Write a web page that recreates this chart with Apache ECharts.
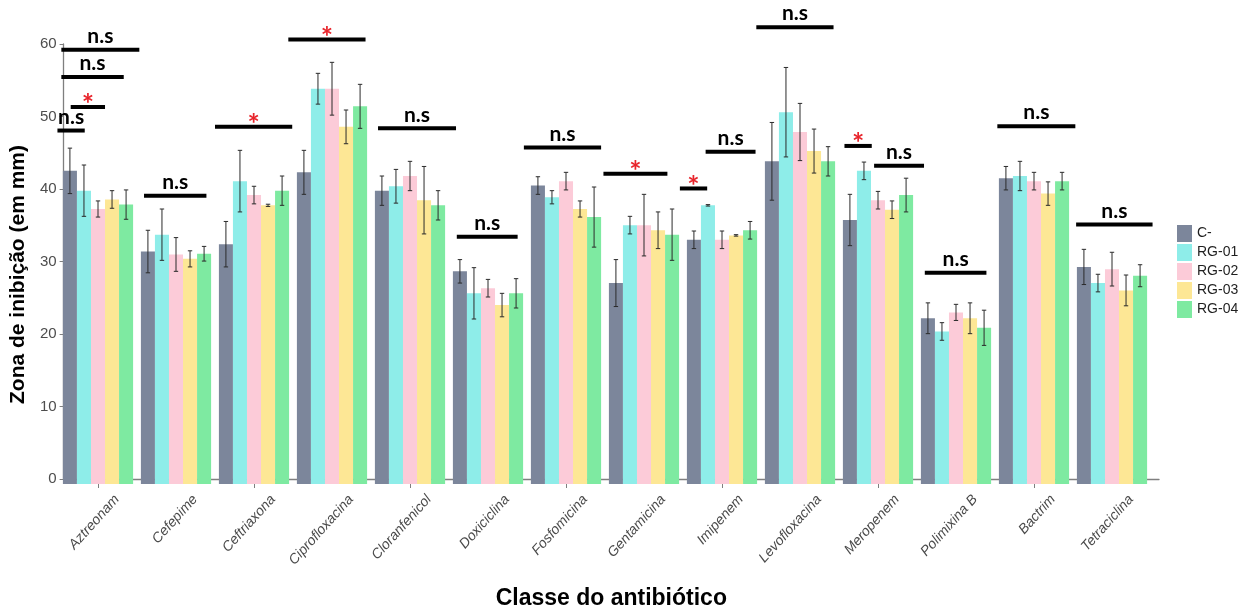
<!DOCTYPE html>
<html>
<head>
<meta charset="utf-8">
<script src="https://cdn.jsdelivr.net/npm/echarts@6/dist/echarts.min.js"></script>
<style>
  html, body { margin: 0; padding: 0; background: #ffffff; }
  #chart { width: 1246px; height: 615px; }
</style>
</head>
<body>
<div id="chart"></div>
<script>
// Inhibition zone (mm) per antibiotic, for the control and four isolates
const categories = ['Aztreonam', 'Cefepime', 'Ceftriaxona', 'Ciprofloxacina', 'Cloranfenicol',
  'Doxiciclina', 'Fosfomicina', 'Gentamicina', 'Imipenem', 'Levofloxacina',
  'Meropenem', 'Polimixina B', 'Bactrim', 'Tetraciclina'];
const groups = ['C-', 'RG-01', 'RG-02', 'RG-03', 'RG-04'];

const meanC   = [42.7, 31.7, 32.7, 42.5, 40.0, 29.0, 40.7, 27.4, 33.3, 44.0, 36.0, 22.6, 41.7, 29.6];
const meanRG1 = [40.0, 34.0, 41.3, 53.9, 40.6, 26.0, 39.1, 35.3, 38.0, 50.7, 42.7, 20.8, 42.0, 27.4];
const meanRG2 = [37.5, 31.3, 39.4, 53.9, 42.0, 26.7, 41.3, 35.3, 33.3, 48.0, 38.7, 23.4, 41.3, 29.3];
const meanRG3 = [38.8, 30.7, 38.0, 48.7, 38.7, 24.4, 37.5, 34.6, 33.9, 45.4, 37.4, 22.6, 39.6, 26.4];
const meanRG4 = [38.1, 31.4, 40.0, 51.5, 38.0, 26.0, 36.4, 34.0, 34.6, 44.0, 39.4, 21.3, 41.3, 28.4];

// standard deviations (half length of each error bar)
const sdC   = [3.1, 2.9, 3.1, 3.0, 2.0, 1.6, 1.2, 3.2, 1.2, 5.3, 3.5, 2.1, 1.6, 2.4];
const sdRG1 = [3.5, 3.5, 4.2, 2.1, 2.3, 3.5, 0.9, 1.2, 0.1, 6.1, 1.2, 1.2, 2.0, 1.2];
const sdRG2 = [1.1, 2.3, 1.2, 3.6, 2.0, 1.2, 1.2, 4.2, 1.2, 3.9, 1.2, 1.1, 1.2, 2.3];
const sdRG3 = [1.2, 1.1, 0.15, 2.3, 4.6, 1.6, 1.1, 2.5, 0.1, 3.0, 1.2, 2.1, 1.6, 2.1];
const sdRG4 = [2.0, 1.0, 2.0, 3.0, 2.0, 2.0, 4.1, 3.5, 1.2, 2.0, 2.3, 2.4, 1.2, 1.5];

const yTicks = [0, 10, 20, 30, 40, 50, 60];

// significance brackets: span in category units, height in mm, label
const sigStart = [-0.47, -0.47, -0.35, -0.52, 0.59, 1.50, 2.44, 3.59, 4.60, 5.46, 6.48, 7.46, 7.79, 8.44, 9.57, 9.95, 10.60, 11.53, 12.54];
const sigEnd   = [0.53, 0.33, 0.09, -0.17, 1.39, 2.49, 3.43, 4.59, 5.38, 6.45, 7.30, 7.81, 8.43, 9.43, 9.92, 10.59, 11.39, 12.53, 13.52];
const sigLevel = [59.2, 55.5, 51.4, 48.2, 39.3, 48.7, 60.6, 48.5, 33.7, 45.9, 42.3, 40.3, 45.3, 62.3, 46.1, 43.4, 28.8, 48.8, 35.4];
const sigLabel = ['n.s', 'n.s', '*', 'n.s', 'n.s', '*', '*', 'n.s', 'n.s', 'n.s', '*', '*', 'n.s', 'n.s', '*', 'n.s', 'n.s', 'n.s', 'n.s'];

const means = [meanC, meanRG1, meanRG2, meanRG3, meanRG4];
const sds = [sdC, sdRG1, sdRG2, sdRG3, sdRG4];
const colors = ['#7c869b', '#8eede9', '#fccbd8', '#fde795', '#7eeaa1'];

const FONT = "'Liberation Sans', Arial, sans-serif";
const GRID_TOP = 44, GRID_BOTTOM = 131;

const chart = echarts.init(document.getElementById('chart'), null, { renderer: 'canvas' });

// bars
const barSeries = groups.map((g, s) => ({
  name: g,
  type: 'bar',
  xAxisIndex: 1,
  yAxisIndex: 1,
  barGap: '0%',
  barCategoryGap: '10%',
  itemStyle: { color: colors[s] },
  data: means[s],
  z: 2
}));

// error bars, positioned within each category band like the dodged bars
const errData = [];
for (let s = 0; s < groups.length; s++) {
  for (let i = 0; i < categories.length; i++) {
    errData.push([i, means[s][i], sds[s][i], s]);
  }
}
const errSeries = {
  type: 'custom',
  name: 'sd',
  xAxisIndex: 1,
  yAxisIndex: 1,
  silent: true,
  z: 5,
  encode: { x: 0, y: 1 },
  data: errData,
  renderItem: function (params, api) {
    const cat = api.value(0), m = api.value(1), sd = api.value(2), s = api.value(3);
    const band = api.size([1, 0])[0];
    const bw = band * 0.9 / groups.length;
    const cx = api.coord([cat, m])[0] + (s - (groups.length - 1) / 2) * bw;
    const yt = api.coord([cat, m + sd])[1];
    const yb = api.coord([cat, m - sd])[1];
    const cap = 2.2;
    const st = { stroke: '#2b2b2b', lineWidth: 1 };
    return {
      type: 'group',
      children: [
        { type: 'line', shape: { x1: cx, y1: yt, x2: cx, y2: yb }, style: st },
        { type: 'line', shape: { x1: cx - cap, y1: yt, x2: cx + cap, y2: yt }, style: st },
        { type: 'line', shape: { x1: cx - cap, y1: yb, x2: cx + cap, y2: yb }, style: st }
      ]
    };
  }
};

// significance brackets with their labels
const sigData = sigStart.map((x0, k) => [x0, sigLevel[k], sigEnd[k], k]);
function catX(api, v, y) {
  const base = Math.floor(v);
  const band = api.size([1, 0])[0];
  return api.coord([base, y])[0] + (v - base) * band;
}
const sigSeries = {
  type: 'custom',
  name: 'sig',
  xAxisIndex: 1,
  yAxisIndex: 1,
  silent: true,
  clip: false,
  z: 6,
  encode: { x: 0, y: 1 },
  data: sigData,
  renderItem: function (params, api) {
    const x0v = api.value(0), yv = api.value(1), x1v = api.value(2), k = api.value(3);
    const x0 = catX(api, x0v, yv), x1 = catX(api, x1v, yv);
    const y = api.coord([0, yv])[1];
    const lab = sigLabel[k];
    const star = lab === '*';
    return {
      type: 'group',
      children: [
        { type: 'rect', shape: { x: x0, y: y - 2, width: x1 - x0, height: 4 }, style: { fill: '#000000' } },
        {
          type: 'text',
          x: (x0 + x1) / 2,
          y: star ? y - 2 : y - 3,
          style: {
            text: lab,
            align: 'center',
            verticalAlign: star ? 'middle' : 'bottom',
            fill: star ? '#e8242b' : '#000000',
            font: star ? "bold 29px 'Lato', 'Open Sans', sans-serif" : "bold 21px 'Lato', 'Open Sans', sans-serif"
          }
        }
      ]
    };
  }
};

const option = {
  backgroundColor: '#ffffff',
  animation: false,
  grid: [
    { left: 51, right: 87, top: GRID_TOP, bottom: GRID_BOTTOM },
    { left: 59, right: 95, top: GRID_TOP, bottom: GRID_BOTTOM },
    { left: 78, right: 76, top: GRID_TOP, bottom: GRID_BOTTOM }
  ],
  legend: {
    data: groups,
    orient: 'vertical',
    left: 1172,
    top: 220,
    itemWidth: 15,
    itemHeight: 17,
    itemGap: 2,
    icon: 'rect',
    selectedMode: false,
    textStyle: { fontFamily: FONT, fontSize: 14, color: '#1f1f1f' }
  },
  xAxis: [
    {
      // full-width axis line and the axis title
      gridIndex: 0,
      type: 'value',
      min: 0,
      max: 1,
      axisLine: { show: true, onZero: false, lineStyle: { color: '#7f7f7f', width: 1.3 } },
      axisTick: { show: false },
      axisLabel: { show: false },
      splitLine: { show: false },
      name: 'Classe do antibiótico',
      nameLocation: 'middle',
      nameGap: 108,
      nameTextStyle: { fontFamily: FONT, fontWeight: 'bold', fontSize: 23, color: '#000000' }
    },
    {
      // category scale for bars, ticks
      gridIndex: 1,
      type: 'category',
      data: categories,
      axisLine: { show: false },
      axisTick: { show: true, alignWithLabel: true, length: 4, lineStyle: { color: '#7f7f7f' } },
      axisLabel: { show: false },
      splitLine: { show: false }
    },
    {
      // rotated category labels
      gridIndex: 2,
      type: 'category',
      data: categories,
      axisLine: { show: false },
      axisTick: { show: false },
      axisLabel: {
        show: true,
        interval: 0,
        rotate: 48,
        margin: 13,
        fontFamily: FONT,
        fontStyle: 'italic',
        fontSize: 14,
        color: '#4a4a4a'
      },
      splitLine: { show: false }
    }
  ],
  yAxis: [
    {
      gridIndex: 0,
      type: 'value',
      min: yTicks[0],
      max: yTicks[yTicks.length - 1],
      interval: yTicks[1] - yTicks[0],
      axisLine: { show: true, lineStyle: { color: '#7f7f7f', width: 1.3 } },
      axisTick: { show: true, length: 4, lineStyle: { color: '#7f7f7f' } },
      axisLabel: { fontFamily: FONT, fontSize: 15, color: '#4d4d4d', margin: 7 },
      splitLine: { show: false },
      name: 'Zona de inibição (em mm)',
      nameLocation: 'middle',
      nameGap: 31,
      nameTextStyle: { fontFamily: FONT, fontWeight: 'bold', fontSize: 21, color: '#000000', padding: [0, 26, 0, 0] }
    },
    {
      gridIndex: 1,
      type: 'value',
      min: yTicks[0],
      max: yTicks[yTicks.length - 1],
      show: false
    },
    {
      gridIndex: 2,
      type: 'value',
      min: yTicks[0],
      max: yTicks[yTicks.length - 1],
      show: false
    }
  ],
  series: barSeries.concat([errSeries, sigSeries])
};

chart.setOption(option);
</script>
</body>
</html>
